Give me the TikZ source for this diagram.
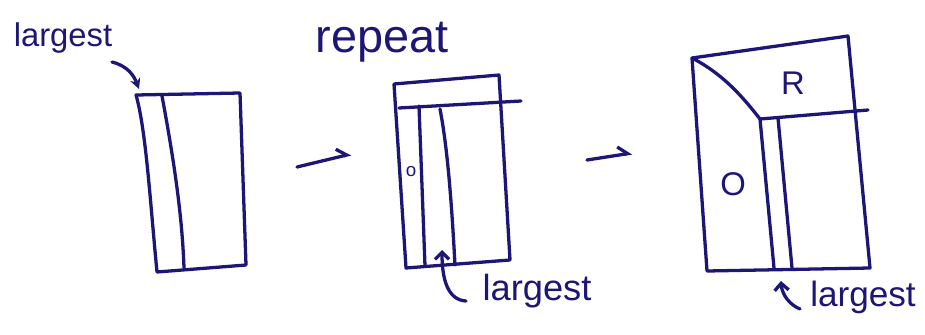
\documentclass[tikz,border=0pt]{standalone}
\usepackage{fontspec}
\setmainfont{Liberation Sans}
\usetikzlibrary{arrows.meta}
\definecolor{ink}{RGB}{28,22,118}

\begin{document}
\begin{tikzpicture}[x=0.03cm, y=-0.03cm,
        pen/.style={draw=ink, line width=2.8pt, line cap=round, line join=round},
        hand/.style={text=ink, inner sep=0pt, font=\fontsize{28}{30}\selectfont},
        hook/.style={pen, -{Straight Barb[left, length=8pt, width=14pt]}},
        barb/.style={pen, -{Straight Barb[length=6pt, width=12pt]}},
        tip/.style={pen, -{Stealth[length=9pt, width=9pt]}}
    ]
    \useasboundingbox (0,0) rectangle (925,334);

    % Folha inicial
    \draw[pen] (136,95) -- (240,93) -- (246,265) -- (157,272)
        .. controls (150,200) and (146,130) .. cycle;
    \draw[pen] (162,96) .. controls (172,150) and (182,210) .. (184,268);
    \coordinate (c1) at (139,89);
    \node[hand] (l1) at (63,38) {largest};
    \draw[tip] (112,62) .. controls (128,66) and (134,76) .. (c1);

    % Primeira seta
    \coordinate (a1s) at (297,167);
    \coordinate (a1e) at (351,154);
    \draw[hook] (a1s) -- (a1e);

    % Segunda folha
    \node[hand, font=\fontsize{40}{42}\selectfont] (rep) at (382,42) {repeat};
    \draw[pen] (394,84) -- (499,75) -- (510,260) -- (406,268) -- cycle;
    \draw[pen] (399,108) -- (521,101);
    \draw[pen] (419,106) -- (425,266);
    \draw[pen] (440,109) .. controls (448,150) and (452,210) .. (455,265);
    \node[hand, font=\fontsize{16}{18}\selectfont] (o1) at (411,172) {o};
    \coordinate (c2) at (442,250);
    \node[hand, font=\fontsize{31}{33}\selectfont] (l2) at (537,291) {largest};
    \draw[barb] (466,301) .. controls (448,300) and (442,280) .. (c2);

    % Segunda seta
    \coordinate (a2s) at (587,160);
    \coordinate (a2e) at (632,153);
    \draw[hook] (a2s) -- (a2e);

    % Folha final
    \draw[pen] (692,58) -- (848,36) -- (870,268) -- (707,271) -- cycle;
    \draw[pen] (692,58) .. controls (725,75) and (745,100) .. (760,119);
    \draw[pen] (760,119) -- (868,110);
    \draw[pen] (760,119) -- (774,268);
    \draw[pen] (778,118) -- (792,268);
    \node[hand] (rr) at (793,83) {R};
    \node[hand] (oo) at (733,184) {O};
    \coordinate (c3) at (781,281);
    \node[hand, font=\fontsize{30}{32}\selectfont] (l3) at (863,297) {largest};
    \draw[barb] (800,309) .. controls (790,305) and (782,295) .. (c3);

\end{tikzpicture}
\end{document}
